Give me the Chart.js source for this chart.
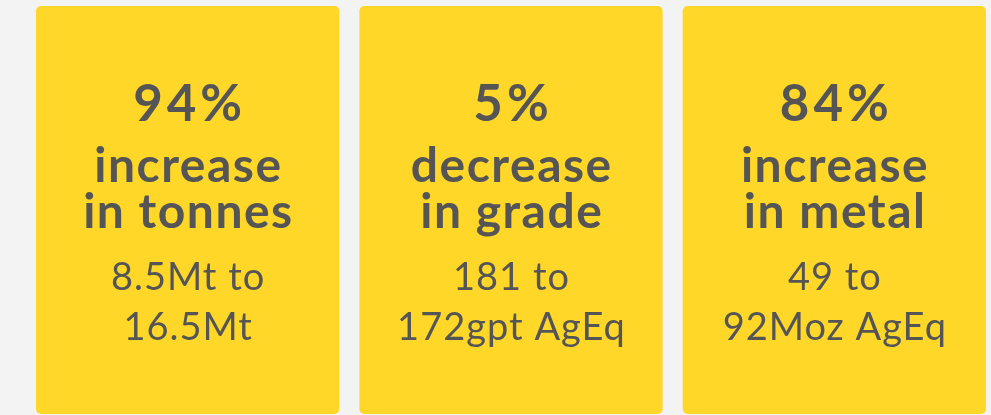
<!DOCTYPE html>
<html lang="en">
  <head>
    <meta charset="UTF-8" />
    <title>Resource change</title>
    <style>
      html, body { margin: 0; padding: 0; background: #f3f3f3; overflow: hidden; }
      #wrap { position: relative; width: 1000px; height: 415px; }
    </style>
  </head>
  <body>
    <div id="wrap"><canvas id="cards"></canvas></div>

    <script src="https://cdn.jsdelivr.net/npm/chart.js@4"></script>
    <script>
      // DATA
      const categories = ["Tonnes", "Grade", "Metal"];
      const changePct = [94, 5, 84];
      const direction = ["increase", "decrease", "increase"];
      const measure = ["in tonnes", "in grade", "in metal"];
      const fromText = ["8.5Mt to", "181 to", "49 to"];
      const toText = ["16.5Mt", "172gpt AgEq", "92Moz AgEq"];
      const cardFill = [1, 1, 1];

      const ink = "#555555";
      const yellow = "#ffd728";

      // letterSpacing adds space after the last glyph too, shift to keep centred
      function centred(ctx, text, x, y, spacing) {
        ctx.letterSpacing = spacing + "px";
        ctx.fillText(text, x + spacing / 2, y);
      }

      // draws the text lines on each card
      const cardText = {
        id: "cardText",
        afterDatasetsDraw(chart) {
          const ctx = chart.ctx;
          const bars = chart.getDatasetMeta(0).data;
          ctx.save();
          ctx.fillStyle = ink;
          ctx.textAlign = "center";
          ctx.textBaseline = "alphabetic";
          bars.forEach((bar, i) => {
            const x = bar.x;
            ctx.font = "bold 51px Lato";
            centred(ctx, changePct[i] + "%", x, 121, 4);
            ctx.font = "bold 48px Lato";
            centred(ctx, direction[i], x, 182, 1.5);
            centred(ctx, measure[i], x, 228, 1.5);
            ctx.font = "38px Lato";
            centred(ctx, fromText[i], x, 290, 1);
            centred(ctx, toText[i], x, 340, 1);
          });
          ctx.restore();
        },
      };

      new Chart(document.getElementById("cards"), {
        type: "bar",
        data: {
          labels: categories,
          datasets: [
            {
              data: cardFill,
              backgroundColor: yellow,
              borderRadius: 5,
              borderSkipped: false,
              categoryPercentage: 0.938,
              barPercentage: 1,
            },
          ],
        },
        options: {
          responsive: true,
          maintainAspectRatio: false,
          animation: false,
          layout: { padding: { left: 26, right: 4, top: 6, bottom: 1 } },
          plugins: { legend: { display: false }, tooltip: { enabled: false } },
          scales: {
            x: { display: false },
            y: { display: false, min: 0, max: 1 },
          },
        },
        plugins: [cardText],
      });
    </script>
  </body>
</html>
